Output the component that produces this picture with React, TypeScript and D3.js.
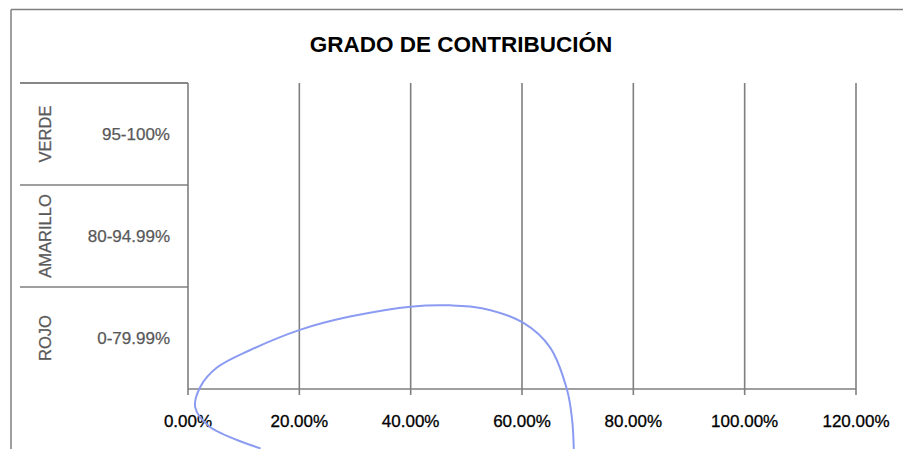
import * as d3 from 'd3';

// categorias del eje (de abajo hacia arriba)
const niveles = ['ROJO', 'AMARILLO', 'VERDE'];
const rangos = ['0-79.99%', '80-94.99%', '95-100%'];
// valores de las barras (vacías en el original)
const valores = [0, 0, 0];
const ticksX = [0, 0.2, 0.4, 0.6, 0.8, 1.0, 1.2];

// trazo a mano (azul) sobre la hoja escaneada: x en %, y en unidades de categoria
const trazoX = [12.9, 3.9, 1.3, 2.2, 5.2, 11.1, 20.1, 29.1, 40.4, 47.1, 53.0, 60.2, 65.0, 68.1, 69.0, 69.3];
const trazoY = [-0.58, -0.37, -0.18, 0.02, 0.21, 0.38, 0.58, 0.71, 0.81, 0.82, 0.79, 0.65, 0.41, -0.01, -0.30, -0.58];

const W = 903;
const H = 449;
const plot = { left: 188, right: 856, top: 83, bottom: 389 };
const gris = '#7f7f7f';
const fuente = 'Liberation Sans, Arial, sans-serif';

export default function App() {
  document.body.style.margin = '0';
  document.body.style.overflow = 'hidden';

  const x = d3.scaleLinear().domain([0, 1.2]).range([plot.left, plot.right]);
  const y = d3.scaleBand().domain(niveles).range([plot.bottom, plot.top]).paddingInner(0);
  const yNivel = d3.scaleLinear().domain([0, niveles.length]).range([plot.bottom, plot.top]);
  const fmt = d3.format('.2%');

  const trazo = d3.line<number>()
    .x((_, i) => x(trazoX[i] / 100))
    .y((_, i) => yNivel(trazoY[i]))
    .curve(d3.curveCatmullRom.alpha(0.5));

  const limites = niveles.map(n => (y(n) as number)).concat([plot.top]);

  return (
    <svg width={W} height={H} style={{ display: 'block', background: '#fff' }}>
      {/* marco del grafico */}
      <line x1={11} y1={9.5} x2={W} y2={9.5} stroke={gris} strokeWidth={1.5} />
      <line x1={11} y1={9.5} x2={11} y2={H} stroke={gris} strokeWidth={1.5} />

      <text x={461} y={52} textAnchor="middle" fontFamily={fuente}
        fontWeight="bold" fontSize={22.5} fill="#000">GRADO DE CONTRIBUCIÓN</text>

      {/* lineas de division */}
      {ticksX.slice(1).map(t => (
        <line key={t} x1={x(t)} x2={x(t)} y1={plot.top} y2={plot.bottom} stroke={gris} strokeWidth={1.6} />
      ))}

      {/* barras */}
      {niveles.map((n, i) => (
        <rect key={n} x={x(0)} y={(y(n) as number) + y.bandwidth() * 0.25}
          width={x(valores[i]) - x(0)} height={y.bandwidth() * 0.5} fill="#4f81bd" />
      ))}

      {/* eje de categorias de dos niveles */}
      {limites.map((v, i) => (
        <line key={i} x1={20} x2={plot.left} y1={v} y2={v} stroke={gris} strokeWidth={1.5} />
      ))}
      <line x1={plot.left} x2={plot.left} y1={plot.top} y2={plot.bottom} stroke={gris} strokeWidth={1.6} />
      {niveles.map((n, i) => {
        const cy = (y(n) as number) + y.bandwidth() / 2;
        return (
          <g key={n} fontFamily={fuente} fill="#595959" stroke="#595959" strokeWidth={0.25}>
            <text transform={`translate(45,${cy}) rotate(-90)`} textAnchor="middle"
              dominantBaseline="central" fontSize={16.5}>{n}</text>
            <text x={170} y={cy} textAnchor="end" dominantBaseline="central" fontSize={17}>{rangos[i]}</text>
          </g>
        );
      })}

      {/* eje de valores */}
      <line x1={plot.left} x2={plot.right} y1={plot.bottom} y2={plot.bottom} stroke={gris} strokeWidth={1.6} />
      {ticksX.map(t => (
        <g key={t}>
          <line x1={x(t)} x2={x(t)} y1={plot.bottom} y2={plot.bottom + 6} stroke={gris} strokeWidth={1.6} />
          <text x={x(t)} y={427} textAnchor="middle" fontFamily={fuente}
            fontSize={17} fill="#000" stroke="#000" strokeWidth={0.3}>{fmt(t)}</text>
        </g>
      ))}

      <path d={trazo(trazoX) || ''} fill="none" stroke="#8b9bf2" strokeWidth={2} strokeLinecap="round" />
    </svg>
  );
}
